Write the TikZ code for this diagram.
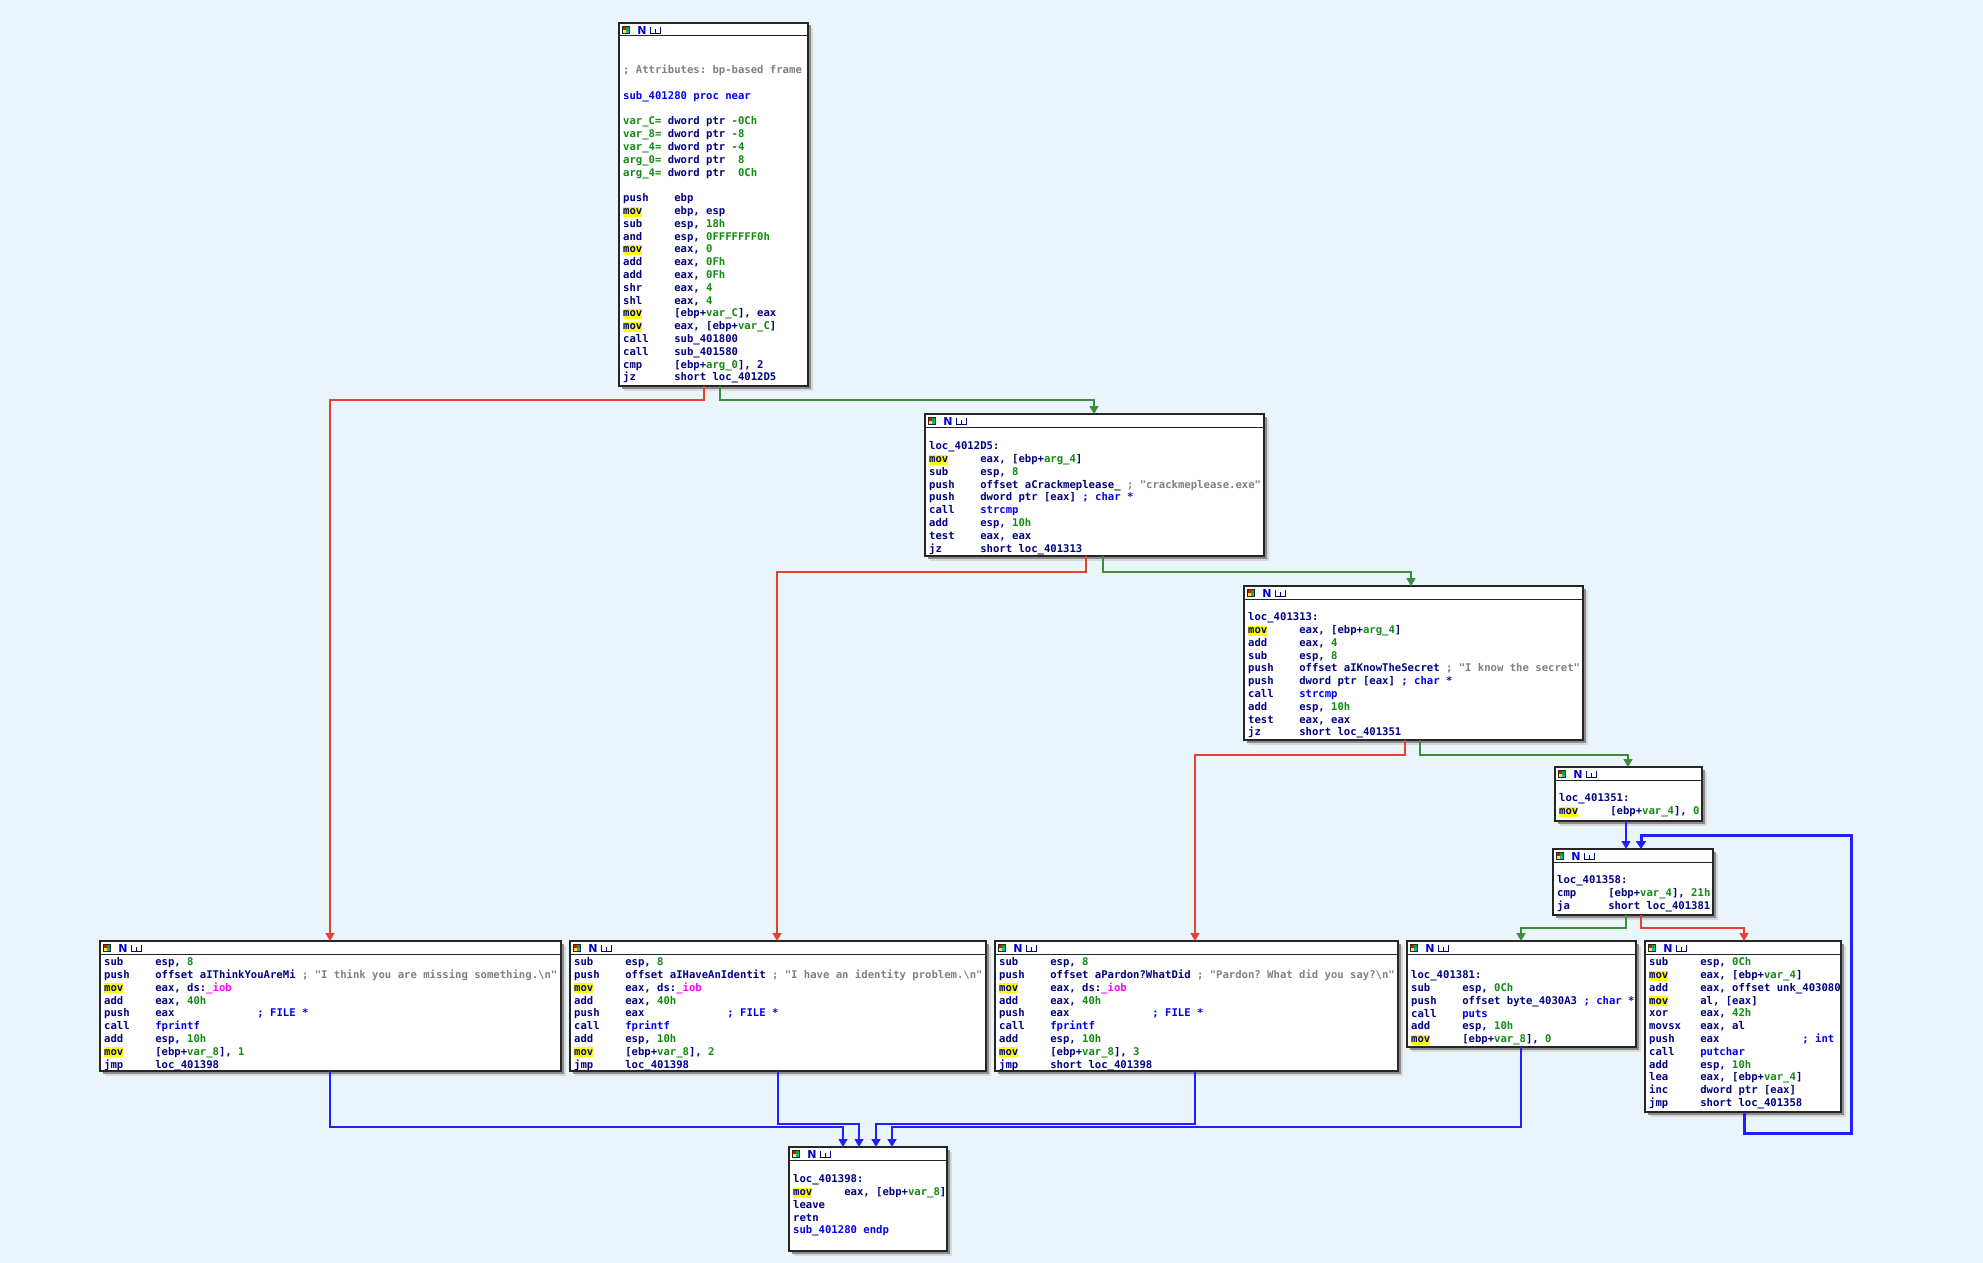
\documentclass[tikz,border=0pt]{standalone}
\usepackage{fontspec}
\usetikzlibrary{arrows.meta}
\newfontfamily\codefont{DejaVu Sans Mono}
\newfontfamily\hdrfont{DejaVu Sans}
\definecolor{bgc}{HTML}{E9F4FB}
\definecolor{navy}{HTML}{000080}
\definecolor{grn}{HTML}{108A10}
\definecolor{blu}{HTML}{0000F0}
\definecolor{gry}{HTML}{808080}
\definecolor{mag}{HTML}{FF00FF}
\definecolor{hly}{HTML}{FFFF00}
\definecolor{edred}{HTML}{E5412D}
\definecolor{edgrn}{HTML}{3C8C3C}
\definecolor{edblu}{HTML}{2020FF}
\newlength\cw
\newcommand\codesize{\fontsize{10.6}{12.8}\selectfont}
\AtBeginDocument{\settowidth\cw{\codefont\bfseries\codesize 0}}
\newcommand\cG[1]{\textcolor{grn}{#1}}
\newcommand\cB[1]{\textcolor{blu}{#1}}
\newcommand\cY[1]{\textcolor{gry}{#1}}
\newcommand\cM[1]{\textcolor{mag}{#1}}
\newcommand\Ls{\rule[-3.2pt]{0pt}{12.8pt}}
\newcommand\iN[2]{\makebox[8\cw][l]{#1}#2}
\newcommand\pad[2]{\makebox[#1\cw][l]{#2}}
\newcommand\hmov{{\setlength\fboxsep{0pt}\colorbox{hly}{\rule[-2pt]{0pt}{10pt}mov}}}
\tikzset{
  blockbox/.style={draw=black!85, line width=1.2pt, fill=white, inner sep=0pt, outer sep=0pt, anchor=north west},
  hdrline/.style={draw=black!85, line width=1pt},
  hdrN/.style={font=\hdrfont\bfseries\fontsize{11}{11}\selectfont, text={rgb,255:red,0;green,0;blue,200}, inner sep=0pt},
  txt/.style={anchor=north west, inner sep=0pt, align=left, font=\codefont\bfseries\codesize\frenchspacing, text=navy},
  redge/.style={draw=edred, line width=1.4pt, -{Triangle[width=9pt,length=8pt]}},
  gedge/.style={draw=edgrn, line width=1.4pt, -{Triangle[width=9pt,length=8pt]}},
  bedge/.style={draw=edblu, line width=1.4pt, -{Triangle[width=9pt,length=8pt]}},
  loopedge/.style={draw=edblu, line width=3pt, -{Triangle[width=10pt,length=8pt]}}
}
\newcommand\idablock[5]{%
  \fill[black!15] (#2+5,#3+5) rectangle (#4+5,#5+5);
  \fill[black!45] (#2+2.5,#3+2.5) rectangle (#4+2.5,#5+2.5);
  \node[blockbox, minimum width={(#4)-(#2)}, minimum height={(#5)-(#3)}] (#1) at (#2,#3) {};
  \draw[hdrline] (#2,#3+13) -- (#4,#3+13);
  \fill[black!85] (#2+3,#3+3) rectangle (#2+11,#3+11);
  \fill[red] (#2+4,#3+4) rectangle (#2+7,#3+7);
  \fill[green!70!black] (#2+7,#3+4) rectangle (#2+10,#3+7);
  \fill[yellow] (#2+4,#3+7) rectangle (#2+7,#3+10);
  \fill[cyan] (#2+7,#3+7) rectangle (#2+10,#3+10);
  \node[hdrN] (#1-N) at (#2+23,#3+7) {N};
  \draw[navy, line width=0.8pt] (#2+31,#3+4) -- (#2+31,#3+10.5) -- (#2+42,#3+10.5)
     (#2+36,#3+6) -- (#2+36,#3+10.5) (#2+41,#3+4) -- (#2+41,#3+10.5);
}
\begin{document}
\begin{tikzpicture}[x=1pt,y=-1pt]
\fill[bgc] (0,0) rectangle (1983,1263);
\useasboundingbox (0,0) rectangle (1983,1263);

% blocks
\idablock{b1}{619}{23}{808}{386}
\idablock{b2}{925}{414}{1264}{556}
\idablock{b3}{1244}{586}{1583}{740}
\idablock{b4}{1555}{767}{1702}{821}
\idablock{b5}{1553}{849}{1713}{915}
\idablock{b6}{100}{941}{561}{1071}
\idablock{b7}{570}{941}{986}{1071}
\idablock{b8}{995}{941}{1398}{1071}
\idablock{b9}{1407}{941}{1636}{1047}
\idablock{b10}{1645}{941}{1841}{1112}
\idablock{b11}{789}{1147}{947}{1251}

% texts
\node[txt] (t1) at (623,63.9) {%
\Ls\cY{; Attributes: bp-based frame}\\
\Ls\\
\Ls\cB{sub\_401280 proc near}\\
\Ls\\
\Ls\cG{var\_C=} dword ptr \cG{-0Ch}\\
\Ls\cG{var\_8=} dword ptr \cG{-8}\\
\Ls\cG{var\_4=} dword ptr \cG{-4}\\
\Ls\cG{arg\_0=} dword ptr\ \ \cG{8}\\
\Ls\cG{arg\_4=} dword ptr\ \ \cG{0Ch}\\
\Ls\\
\Ls\iN{push}{ebp}\\
\Ls\iN{\hmov}{ebp, esp}\\
\Ls\iN{sub}{esp, \cG{18h}}\\
\Ls\iN{and}{esp, \cG{0FFFFFFF0h}}\\
\Ls\iN{\hmov}{eax, \cG{0}}\\
\Ls\iN{add}{eax, \cG{0Fh}}\\
\Ls\iN{add}{eax, \cG{0Fh}}\\
\Ls\iN{shr}{eax, \cG{4}}\\
\Ls\iN{shl}{eax, \cG{4}}\\
\Ls\iN{\hmov}{[ebp+\cG{var\_C}], eax}\\
\Ls\iN{\hmov}{eax, [ebp+\cG{var\_C}]}\\
\Ls\iN{call}{sub\_401800}\\
\Ls\iN{call}{sub\_401580}\\
\Ls\iN{cmp}{[ebp+\cG{arg\_0}], 2}\\
\Ls\iN{jz}{short loc\_4012D5}};

\node[txt] (t2) at (929,439.9) {%
\Ls loc\_4012D5:\\
\Ls\iN{\hmov}{eax, [ebp+\cG{arg\_4}]}\\
\Ls\iN{sub}{esp, \cG{8}}\\
\Ls\iN{push}{offset aCrackmeplease\_ \cY{; "crackmeplease.exe"}}\\
\Ls\iN{push}{dword ptr [eax] \cB{; char *}}\\
\Ls\iN{call}{\cB{strcmp}}\\
\Ls\iN{add}{esp, \cG{10h}}\\
\Ls\iN{test}{eax, eax}\\
\Ls\iN{jz}{short loc\_401313}};

\node[txt] (t3) at (1248,610.9) {%
\Ls loc\_401313:\\
\Ls\iN{\hmov}{eax, [ebp+\cG{arg\_4}]}\\
\Ls\iN{add}{eax, \cG{4}}\\
\Ls\iN{sub}{esp, \cG{8}}\\
\Ls\iN{push}{offset aIKnowTheSecret \cY{; "I know the secret"}}\\
\Ls\iN{push}{dword ptr [eax] \cB{; char *}}\\
\Ls\iN{call}{\cB{strcmp}}\\
\Ls\iN{add}{esp, \cG{10h}}\\
\Ls\iN{test}{eax, eax}\\
\Ls\iN{jz}{short loc\_401351}};

\node[txt] (t4) at (1559,791.9) {%
\Ls loc\_401351:\\
\Ls\iN{\hmov}{[ebp+\cG{var\_4}], \cG{0}}};

\node[txt] (t5) at (1557,873.9) {%
\Ls loc\_401358:\\
\Ls\iN{cmp}{[ebp+\cG{var\_4}], \cG{21h}}\\
\Ls\iN{ja}{short loc\_401381}};

\node[txt] (t6) at (104,955.9) {%
\Ls\iN{sub}{esp, \cG{8}}\\
\Ls\iN{push}{offset aIThinkYouAreMi \cY{; "I think you are missing something.\textbackslash n"}}\\
\Ls\iN{\hmov}{eax, ds:\cM{\_iob}}\\
\Ls\iN{add}{eax, \cG{40h}}\\
\Ls\iN{push}{\pad{16}{eax}\cB{; FILE *}}\\
\Ls\iN{call}{\cB{fprintf}}\\
\Ls\iN{add}{esp, \cG{10h}}\\
\Ls\iN{\hmov}{[ebp+\cG{var\_8}], \cG{1}}\\
\Ls\iN{jmp}{loc\_401398}};

\node[txt] (t7) at (574,955.9) {%
\Ls\iN{sub}{esp, \cG{8}}\\
\Ls\iN{push}{offset aIHaveAnIdentit \cY{; "I have an identity problem.\textbackslash n"}}\\
\Ls\iN{\hmov}{eax, ds:\cM{\_iob}}\\
\Ls\iN{add}{eax, \cG{40h}}\\
\Ls\iN{push}{\pad{16}{eax}\cB{; FILE *}}\\
\Ls\iN{call}{\cB{fprintf}}\\
\Ls\iN{add}{esp, \cG{10h}}\\
\Ls\iN{\hmov}{[ebp+\cG{var\_8}], \cG{2}}\\
\Ls\iN{jmp}{loc\_401398}};

\node[txt] (t8) at (999,955.9) {%
\Ls\iN{sub}{esp, \cG{8}}\\
\Ls\iN{push}{offset aPardon?WhatDid \cY{; "Pardon? What did you say?\textbackslash n"}}\\
\Ls\iN{\hmov}{eax, ds:\cM{\_iob}}\\
\Ls\iN{add}{eax, \cG{40h}}\\
\Ls\iN{push}{\pad{16}{eax}\cB{; FILE *}}\\
\Ls\iN{call}{\cB{fprintf}}\\
\Ls\iN{add}{esp, \cG{10h}}\\
\Ls\iN{\hmov}{[ebp+\cG{var\_8}], \cG{3}}\\
\Ls\iN{jmp}{short loc\_401398}};

\node[txt] (t9) at (1411,968.9) {%
\Ls loc\_401381:\\
\Ls\iN{sub}{esp, \cG{0Ch}}\\
\Ls\iN{push}{offset byte\_4030A3 \cB{; char *}}\\
\Ls\iN{call}{\cB{puts}}\\
\Ls\iN{add}{esp, \cG{10h}}\\
\Ls\iN{\hmov}{[ebp+\cG{var\_8}], \cG{0}}};

\node[txt] (t10) at (1649,955.9) {%
\Ls\iN{sub}{esp, \cG{0Ch}}\\
\Ls\iN{\hmov}{eax, [ebp+\cG{var\_4}]}\\
\Ls\iN{add}{eax, offset unk\_403080}\\
\Ls\iN{\hmov}{al, [eax]}\\
\Ls\iN{xor}{eax, \cG{42h}}\\
\Ls\iN{movsx}{eax, al}\\
\Ls\iN{push}{\pad{16}{eax}\cB{; int}}\\
\Ls\iN{call}{\cB{putchar}}\\
\Ls\iN{add}{esp, \cG{10h}}\\
\Ls\iN{lea}{eax, [ebp+\cG{var\_4}]}\\
\Ls\iN{inc}{dword ptr [eax]}\\
\Ls\iN{jmp}{short loc\_401358}};

\node[txt] (t11) at (793,1172.9) {%
\Ls loc\_401398:\\
\Ls\iN{\hmov}{eax, [ebp+\cG{var\_8}]}\\
\Ls\iN{leave}{}\\
\Ls\iN{retn}{}\\
\Ls\cB{sub\_401280 endp}};

% connectors
\draw[redge] (b1.south -| 704,0) -- (704,400) -- (330,400) -- (b6.north -| 330,0);
\draw[gedge] (b1.south -| 720,0) -- (720,400) -- (1094,400) -- (b2.north -| 1094,0);
\draw[redge] (b2.south -| 1086,0) -- (1086,572) -- (777,572) -- (b7.north -| 777,0);
\draw[gedge] (b2.south -| 1103,0) -- (1103,572) -- (1411,572) -- (b3.north -| 1411,0);
\draw[redge] (b3.south -| 1405,0) -- (1405,755) -- (1195,755) -- (b8.north -| 1195,0);
\draw[gedge] (b3.south -| 1420,0) -- (1420,755) -- (1628,755) -- (b4.north -| 1628,0);
\draw[bedge] (b4.south -| 1626,0) -- (b5.north -| 1626,0);
\draw[gedge] (b5.south -| 1626,0) -- (1626,928) -- (1521,928) -- (b9.north -| 1521,0);
\draw[redge] (b5.south -| 1641,0) -- (1641,928) -- (1744,928) -- (b10.north -| 1744,0);
\draw[loopedge] (b10.south -| 1744,0) -- (1744,1133) -- (1851,1133) -- (1851,835) -- (1641,835) -- (b5.north -| 1641,0);
\draw[bedge] (b6.south -| 330,0) -- (330,1127) -- (843,1127) -- (b11.north -| 843,0);
\draw[bedge] (b7.south -| 778,0) -- (778,1124) -- (859,1124) -- (b11.north -| 859,0);
\draw[bedge] (b8.south -| 1195,0) -- (1195,1124) -- (876,1124) -- (b11.north -| 876,0);
\draw[bedge] (b9.south -| 1521,0) -- (1521,1127) -- (892,1127) -- (b11.north -| 892,0);
\end{tikzpicture}
\end{document}
